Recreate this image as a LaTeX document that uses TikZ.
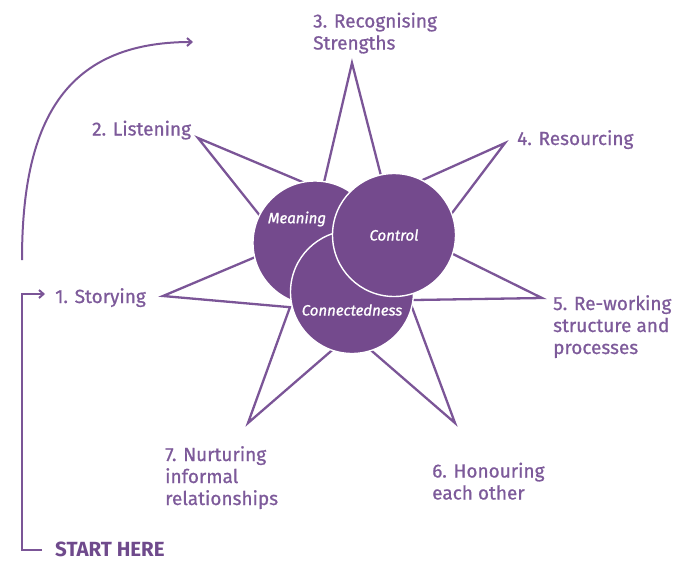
\documentclass[tikz,border=0pt]{standalone}
\usepackage{fontspec}
\setmainfont{Fira Sans}
\newfontfamily\lblfont{Fira Sans}[FakeBold=0.8]
\newfontfamily\corefont{Fira Sans}[FakeBold=1.2]
\usetikzlibrary{arrows.meta}
\definecolor{pline}{HTML}{7B5597}
\definecolor{pfill}{HTML}{744A8D}
\definecolor{ptext}{HTML}{7D5A9A}
\definecolor{pstart}{HTML}{6F4A8C}
\begin{document}
\begin{tikzpicture}[x=1pt,y=-1pt,
  lbl/.style={anchor=base west, inner sep=0pt, align=left, text=ptext,
              font=\lblfont\fontsize{19}{22}\selectfont},
  startlbl/.style={anchor=base west, inner sep=0pt, text=pstart,
              font=\fontsize{20.5}{22}\selectfont\bfseries},
  starline/.style={draw=pline, line width=2.3pt, line join=miter, fill=white},
  core/.style={circle, fill=pfill, draw=white, line width=1.4pt, inner sep=0pt},
  corelbl/.style={text=white, inner sep=0pt, font=\corefont\fontsize{15}{18}\selectfont\itshape},
  conn/.style={draw=pline, line width=2pt},
  tip/.style={-{Straight Barb[length=4.5pt,width=8pt]}}
]
\useasboundingbox (0,0) rectangle (680,563);

% star outer points
\coordinate (P1) at (163,296);
\coordinate (P2) at (198,138);
\coordinate (P3) at (352,63);
\coordinate (P4) at (505,143);
\coordinate (P5) at (542,298);
\coordinate (P6) at (455,423);
\coordinate (P7) at (248,423);
% points along the edges
\coordinate (A1) at (253,258); \coordinate (B1) at (288,307);
\coordinate (A2) at (293,178); \coordinate (B2) at (257,212);
\coordinate (A3) at (325,178); \coordinate (B3) at (380,172);
\coordinate (A4) at (427,178); \coordinate (B4) at (452,213);
\coordinate (A5) at (455,255); \coordinate (B5) at (413,300);
\coordinate (A6) at (413,310); \coordinate (B6) at (373,352);
\coordinate (A7) at (330,352); \coordinate (B7) at (290,307);
% inner vertices
\coordinate (I12) at (intersection of P1--A1 and P2--B2);
\coordinate (I23) at (intersection of P2--A2 and P3--A3);
\coordinate (I34) at (intersection of P3--B3 and P4--A4);
\coordinate (I45) at (intersection of P4--B4 and P5--A5);
\coordinate (I56) at (intersection of P5--B5 and P6--A6);
\coordinate (I67) at (intersection of P6--B6 and P7--A7);
\coordinate (I71) at (intersection of P7--B7 and P1--B1);

\path[starline] (P1) -- (I12) -- (P2) -- (I23) -- (P3) -- (I34) -- (P4) -- (I45)
  -- (P5) -- (I56) -- (P6) -- (I67) -- (P7) -- (I71) -- cycle;

% core circles
\node[core, minimum size=124pt] (meaning) at (315,243) {};
\node[core, minimum size=123pt] (connected) at (352,292) {};
\node[core, minimum size=123pt] (control) at (394,235) {};
\node[corelbl] (tmeaning) at (297,219) {Meaning};
\node[corelbl] (tcontrol) at (394,235) {Control};
\node[corelbl] (tconnected) at (352,310) {Connectedness};

% labels (base = baseline of the last line)
\node[lbl] (l1) at (55,303) {1. Storying};
\node[lbl] (l2) at (92,135.5) {2. Listening};
\node[lbl] (l3) at (313,49.5) {3. Recognising\\Strengths};
\node[lbl] (l4) at (517,145) {4. Resourcing};
\node[lbl] (l5) at (553,354) {5. Re-working\\structure and\\processes};
\node[lbl] (l6) at (432,499.5) {6. Honouring\\each other};
\node[lbl] (l7) at (165,505) {7. Nurturing\\informal\\relationships};
\node[startlbl] (start) at (55,556.5) {START HERE};

% connectors
\coordinate (cs) at (22,260);
\coordinate (ce) at (193,42);
\draw[conn, tip] (cs) .. controls (22,125) and (62,42) .. (ce);

\coordinate (b1) at (42,550);
\coordinate (b2) at (22,550);
\coordinate (b3) at (22,294);
\coordinate (b4) at (45,294);
\draw[conn, tip, line join=miter] (b1) -- (b2) -- (b3) -- (b4);
\end{tikzpicture}
\end{document}
